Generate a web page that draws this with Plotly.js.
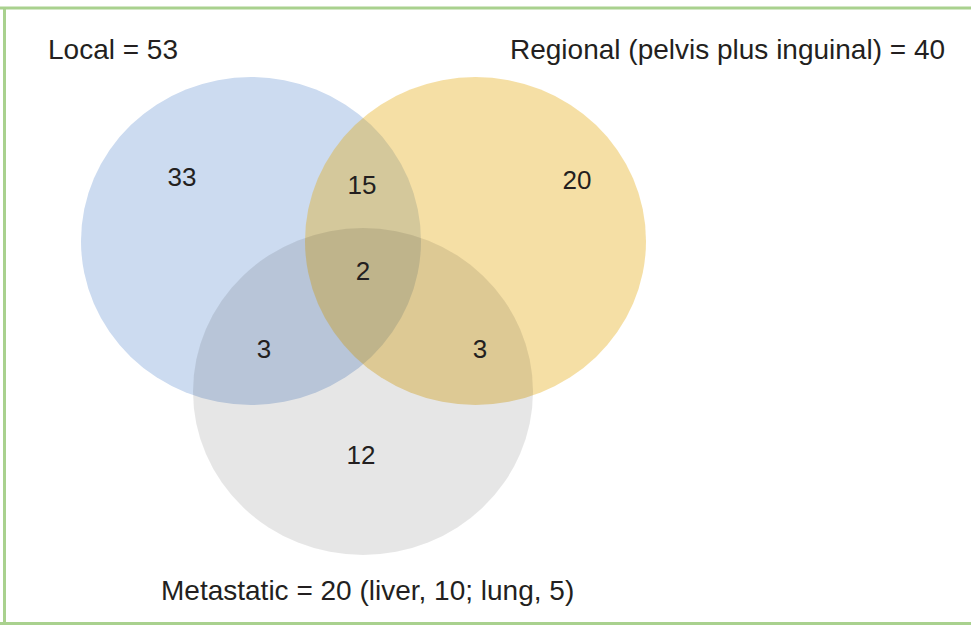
<!DOCTYPE html>
<html>
<head>
<meta charset="utf-8">
<script src="https://cdn.plot.ly/plotly-3.0.1.min.js"></script>
<style>html,body{margin:0;padding:0;background:#fff;} #chart{width:971px;height:625px;}</style>
</head>
<body>
<div id="chart"></div>
<script>
// ---- data ----
const setNames = ['Local', 'Regional (pelvis plus inguinal)', 'Metastatic'];
const setTotals = [53, 40, 20];
const setNotes = ['', '', ' (liver, 10; lung, 5)'];
const regionNames = ['Local only', 'Local & Regional', 'Regional only', 'All three', 'Local & Metastatic', 'Regional & Metastatic', 'Metastatic only'];
const regionCounts = [33, 15, 20, 2, 3, 3, 12];

// ---- layout (pixel space) ----
const circleBoxes = [ // x0, x1, y0, y1
  [81, 421, 77, 405],
  [305, 646, 77, 405],
  [193, 533, 228, 555]
];
// translucent fills chosen so overlaps darken like a multiply blend
const circleColors = ['rgb(204,219,240)', 'rgba(227,166,5,0.36)', 'rgba(0,0,0,0.098)'];
const regionPos = [[182,179],[362,187],[577,182],[363,273],[264,351],[480,351],[361,457]];
const labelPos = [[113,49],[727,49],[367,590]];

const shapes = circleBoxes.map((b, i) => ({
  type: 'circle', xref: 'x', yref: 'y', x0: b[0], x1: b[1], y0: b[2], y1: b[3],
  fillcolor: circleColors[i], line: {width: 0}, layer: 'below'
}));
const border = '#a9d18e';
shapes.push({type:'line', xref:'x', yref:'y', x0:0, x1:971, y0:8, y1:8, line:{color:border, width:3}});
shapes.push({type:'line', xref:'x', yref:'y', x0:4.5, x1:4.5, y0:7, y1:625, line:{color:border, width:3}});
shapes.push({type:'line', xref:'x', yref:'y', x0:0, x1:971, y0:623.5, y1:623.5, line:{color:border, width:3}});

const annotations = setNames.map((n, i) => ({
  x: labelPos[i][0], y: labelPos[i][1], xref: 'x', yref: 'y',
  text: n + ' = ' + setTotals[i] + setNotes[i], showarrow: false,
  font: {family: 'Liberation Sans, Arial, sans-serif', size: 28, color: '#231f20'},
  xanchor: 'center', yanchor: 'middle'
}));

const trace = {
  type: 'scatter', mode: 'text',
  x: regionPos.map(p => p[0]), y: regionPos.map(p => p[1]),
  text: regionCounts.map(String),
  customdata: regionNames,
  textfont: {family: 'Liberation Sans, Arial, sans-serif', size: 26, color: '#231f20'},
  textposition: 'middle center', hoverinfo: 'skip', showlegend: false
};

const layout = {
  width: 971, height: 625,
  margin: {l: 0, r: 0, t: 0, b: 0},
  paper_bgcolor: '#ffffff', plot_bgcolor: 'rgba(0,0,0,0)',
  xaxis: {range: [0, 971], visible: false, fixedrange: true},
  yaxis: {range: [625, 0], visible: false, fixedrange: true},
  shapes: shapes, annotations: annotations, showlegend: false
};

Plotly.newPlot('chart', [trace], layout, {staticPlot: true, displayModeBar: false});
</script>
</body>
</html>
